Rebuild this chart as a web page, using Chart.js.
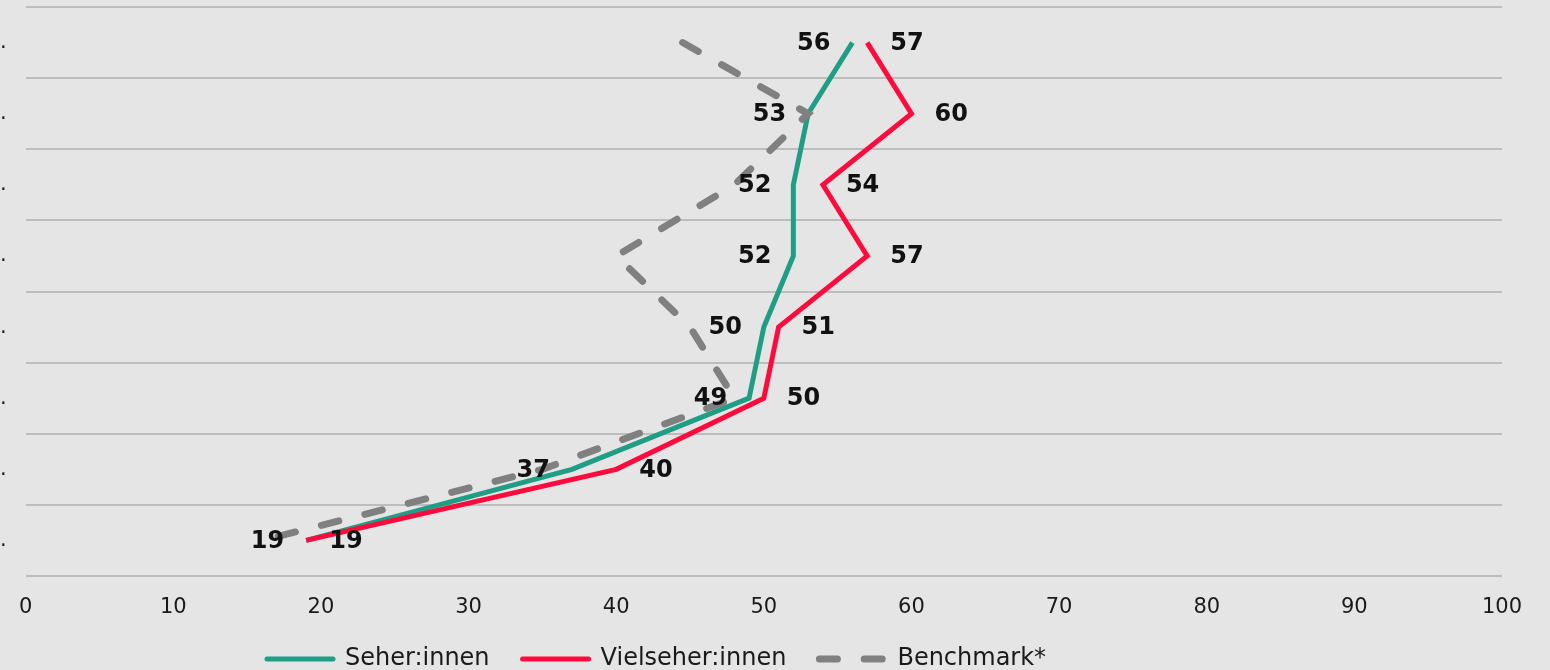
<!DOCTYPE html>
<html>
<head>
<meta charset="utf-8">
<title>Seher:innen / Vielseher:innen / Benchmark</title>
<script src="https://cdn.jsdelivr.net/npm/chart.js@4.4.1/dist/chart.umd.min.js"></script>
<style>
  html, body { margin: 0; padding: 0; background: #e5e5e5; }
  #wrap { width: 1550px; height: 670px; position: relative; }
</style>
</head>
<body>
<div id="wrap"><canvas id="chart"></canvas></div>
<script>
// Category rows (top to bottom) and the three series
const categories = ['.', '.', '.', '.', '.', '.', '.', '.'];
const seherValues = [56, 53, 52, 52, 50, 49, 37, 19];
const vielseherValues = [57, 60, 54, 57, 51, 50, 40, 19];
const benchmarkValues = [44.5, 53, 48, 40, 45, 48, 35, 16];
const seriesNames = ['Seher:innen', 'Vielseher:innen', 'Benchmark*'];
const xMin = 0, xMax = 100, xStep = 10;

const FONT = '"DejaVu Sans", "Noto Sans", sans-serif';
const TEXT = '#1a1a1a';

// Value labels: left of the teal line, right of the red line
const valueLabels = {
  id: 'valueLabels',
  afterDatasetsDraw(chart) {
    const ctx = chart.ctx;
    ctx.save();
    ctx.font = 'bold 24px ' + FONT;
    ctx.fillStyle = '#111111';
    ctx.textBaseline = 'middle';
    [[0, 'right', -22], [1, 'left', 23]].forEach(([di, align, dx]) => {
      const meta = chart.getDatasetMeta(di);
      const values = chart.data.datasets[di].data;
      ctx.textAlign = align;
      meta.data.forEach((pt, i) => {
        ctx.fillText(String(values[i]), pt.x + dx, pt.y + 1);
      });
    });
    ctx.restore();
  }
};

// Legend row sits below the axis, left of centre; the x-axis label
// band is allowed to extend into the space above it
const layoutTweaks = {
  id: 'layoutTweaks',
  afterLayout(chart) {
    const lg = chart.legend;
    if (lg) {
      const h = lg.bottom - lg.top;
      lg.left = 234;
      lg.top = 614;
      lg.bottom = 614 + h;
    }
    const xs = chart.scales.x;
    if (xs) xs.bottom = xs.top + 50;
  }
};

new Chart(document.getElementById('chart'), {
  type: 'line',
  data: {
    labels: categories,
    datasets: [
      {
        label: seriesNames[0],
        data: seherValues,
        borderColor: '#1f9e85',
        backgroundColor: '#1f9e85',
        borderWidth: 5,
        borderCapStyle: 'butt',
        order: 3
      },
      {
        label: seriesNames[1],
        data: vielseherValues,
        borderColor: '#ff0a3c',
        backgroundColor: '#ff0a3c',
        borderWidth: 5,
        borderCapStyle: 'butt',
        order: 2
      },
      {
        label: seriesNames[2],
        data: benchmarkValues,
        borderColor: '#808080',
        backgroundColor: '#808080',
        borderWidth: 7,
        borderDash: [18, 26.8],
        borderCapStyle: 'round',
        order: 1
      }
    ]
  },
  options: {
    indexAxis: 'y',
    responsive: true,
    maintainAspectRatio: false,
    animation: false,
    layout: { padding: { top: 7, right: 48, bottom: 0, left: 0 } },
    elements: {
      point: { radius: 0, hoverRadius: 0 },
      line: { tension: 0, borderJoinStyle: 'miter' }
    },
    scales: {
      x: {
        type: 'linear',
        min: xMin,
        max: xMax,
        grid: { display: false, drawTicks: false },
        border: { display: false },
        ticks: {
          stepSize: xStep,
          padding: 19,
          color: TEXT,
          font: { family: FONT, size: 21 }
        },
        afterFit(scale) { scale.height = 27; }
      },
      y: {
        type: 'category',
        offset: true,
        grid: { offset: true, color: '#bdbdbd', lineWidth: 2, drawTicks: false },
        border: { display: false },
        ticks: {
          padding: 19,
          color: TEXT,
          font: { family: FONT, size: 21 }
        },
        afterFit(scale) {
          scale.width = 25;
          scale.paddingTop = 0;
          scale.paddingBottom = 0;
        }
      }
    },
    plugins: {
      tooltip: { enabled: false },
      legend: {
        position: 'bottom',
        align: 'start',
        labels: {
          usePointStyle: true,
          pointStyle: 'line',
          pointStyleWidth: 66,
          boxWidth: 66,
          padding: 33,
          color: TEXT,
          font: { family: FONT, size: 24 },
          sort: (a, b) => a.datasetIndex - b.datasetIndex,
          generateLabels(chart) {
            const items = Chart.defaults.plugins.legend.labels.generateLabels(chart);
            items.forEach(it => {
              const ds = chart.data.datasets[it.datasetIndex];
              it.pointStyle = 'line';
              it.lineCap = 'round';
              it.lineWidth = ds.borderWidth;
              it.strokeStyle = ds.borderColor;
              it.lineDash = ds.borderDash || [];
            });
            return items;
          }
        }
      }
    }
  },
  plugins: [valueLabels, layoutTweaks]
});
</script>
</body>
</html>
